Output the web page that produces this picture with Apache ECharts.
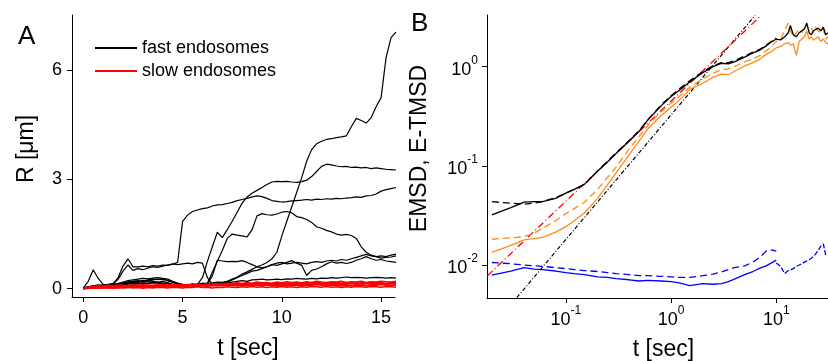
<!DOCTYPE html>
<html><head><meta charset="utf-8">
<script src="https://cdn.jsdelivr.net/npm/echarts@6/dist/echarts.min.js"></script>
<style>html,body{margin:0;padding:0;background:#fff}#c{width:828px;height:361px}</style>
</head><body><div id="c"></div>
<script>
// ---------- Panel A data: R [um] vs t [sec] ----------
const tA = [0,0.25,0.5,0.75,1,1.25,1.5,1.75,
 2,2.25,2.5,2.75,3,3.25,3.5,3.75,
 4,4.25,4.5,4.75,5,5.25,5.5,5.75,
 6,6.25,6.5,6.75,7,7.25,7.5,7.75,
 8,8.25,8.5,8.75,9,9.25,9.5,9.75,
 10,10.25,10.5,10.75,11,11.25,11.5,11.75,
 12,12.25,12.5,12.75,13,13.25,13.5,13.75,
 14,14.25,14.5,14.75,15,15.25,15.5,15.75];

const fast1 = [0.02,0.05,0.08,0.1,0.08,0.1,0.12,0.1,
 0.13,0.15,0.12,0.14,0.16,0.15,0.18,0.17,
 0.15,0.16,0.12,0.1,0.12,0.1,0.13,0.12,
 0.15,0.14,0.16,0.18,0.17,0.2,0.26,0.32,
 0.4,0.46,0.53,0.6,0.65,0.72,0.82,1.0,
 1.45,1.85,2.25,2.65,3.05,3.5,3.82,3.98,
 4.05,4.1,4.12,4.15,4.17,4.2,4.45,4.68,
 4.62,4.55,4.7,5.0,5.25,6.35,6.9,7.05];
const fast2 = [0,0.04,0.06,0.08,0.1,0.08,0.12,0.14,
 0.15,0.18,0.2,0.2,0.22,0.2,0.24,0.26,
 0.25,0.22,0.18,0.12,0.1,0.08,0.1,0.12,
 0.3,0.75,1.15,1.55,1.4,1.62,1.85,2.1,
 2.35,2.52,2.62,2.7,2.78,2.86,2.93,2.95,
 2.94,2.95,2.93,2.92,2.94,2.98,3.08,3.22,
 3.36,3.42,3.4,3.37,3.35,3.36,3.33,3.34,
 3.32,3.33,3.3,3.32,3.3,3.28,3.27,3.26];
const fast3 = [0,0.03,0.05,0.07,0.06,0.08,0.07,0.1,
 0.12,0.15,0.18,0.17,0.2,0.22,0.2,0.18,
 0.2,0.16,0.12,0.1,0.08,0.1,0.08,0.1,
 0.12,0.15,0.45,0.75,1.05,1.38,1.5,1.47,
 1.45,1.42,1.62,2.0,2.06,2.03,2.02,2.05,
 2.1,2.12,2.08,1.98,1.95,1.9,1.82,1.7,
 1.66,1.6,1.56,1.5,1.47,1.49,1.46,1.38,
 1.15,1.0,0.92,0.88,0.84,0.86,0.87,0.9];
const fast4 = [0.02,0.05,0.08,0.1,0.09,0.11,0.13,0.3,
 0.62,0.82,0.6,0.6,0.62,0.6,0.63,0.62,
 0.65,0.64,0.67,0.72,1.85,2.02,2.12,2.16,
 2.2,2.22,2.27,2.3,2.31,2.34,2.37,2.42,
 2.45,2.48,2.52,2.55,2.53,2.48,2.42,2.4,
 2.38,2.39,2.41,2.42,2.43,2.45,2.43,2.46,
 2.45,2.47,2.46,2.48,2.47,2.49,2.5,2.52,
 2.51,2.55,2.56,2.6,2.68,2.72,2.75,2.78];
const fast5 = [0,0.02,0.05,0.08,0.1,0.12,0.14,0.25,
 0.48,0.65,0.5,0.55,0.52,0.56,0.6,0.58,
 0.62,0.65,0.68,0.66,0.68,0.7,0.68,0.72,
 0.7,0.3,0.12,0.14,0.12,0.15,0.18,0.2,
 0.22,0.2,0.24,0.25,0.26,0.24,0.25,0.26,
 0.25,0.27,0.26,0.28,0.27,0.26,0.28,0.27,
 0.29,0.28,0.3,0.29,0.3,0.32,0.3,0.31,
 0.3,0.29,0.3,0.31,0.3,0.29,0.3,0.29];
const fast6 = [0.02,0.2,0.52,0.28,0.12,0.1,0.12,0.1,
 0.14,0.18,0.2,0.22,0.2,0.24,0.26,0.25,
 0.27,0.22,0.18,0.12,0.1,0.12,0.1,0.12,
 0.1,0.13,0.35,0.78,0.76,0.74,0.75,0.74,
 0.77,0.72,0.66,0.6,0.57,0.6,0.66,0.64,
 0.68,0.72,0.77,0.7,0.64,0.36,0.5,0.54,
 0.6,0.68,0.74,0.7,0.72,0.69,0.72,0.78,
 0.82,0.88,0.82,0.78,0.8,0.76,0.74,0.72];
const fast7 = [0,0.03,0.06,0.05,0.08,0.07,0.1,0.12,
 0.1,0.12,0.14,0.13,0.15,0.14,0.16,0.15,
 0.13,0.12,0.1,0.12,0.1,0.09,0.11,0.1,
 0.12,0.11,0.13,0.12,0.15,0.18,0.24,0.3,
 0.36,0.42,0.48,0.5,0.55,0.6,0.66,0.7,
 0.72,0.68,0.7,0.72,0.7,0.68,0.72,0.74,
 0.72,0.76,0.78,0.76,0.8,0.78,0.82,0.86,
 0.9,0.94,0.9,0.88,0.9,0.88,0.92,0.95];
const fast8 = [0,0.04,0.06,0.08,0.06,0.09,0.12,0.14,
 0.18,0.22,0.24,0.26,0.28,0.27,0.29,0.3,
 0.28,0.26,0.2,0.15,0.12,0.1,0.12,0.1,
 0.12,0.11,0.1,0.12,0.11,0.13,0.12,0.14,
 0.13,0.12,0.14,0.13,0.15,0.14,0.13,0.15,
 0.14,0.13,0.15,0.14,0.13,0.15,0.14,0.16,
 0.15,0.14,0.16,0.15,0.14,0.16,0.15,0.14,
 0.16,0.15,0.14,0.16,0.15,0.14,0.15,0.16];

const slow1 = [0,0.03,0.05,0.04,0.06,0.05,0.07,0.06,
 0.08,0.07,0.06,0.08,0.09,0.07,0.08,0.1,
 0.09,0.08,0.1,0.09,0.11,0.1,0.12,0.1,
 0.11,0.13,0.12,0.14,0.12,0.15,0.13,0.16,
 0.14,0.17,0.15,0.18,0.16,0.17,0.15,0.18,
 0.16,0.19,0.17,0.18,0.16,0.19,0.17,0.2,
 0.18,0.17,0.19,0.18,0.2,0.17,0.19,0.18,
 0.2,0.17,0.19,0.18,0.2,0.19,0.18,0.2];
const slow2 = [0,0.02,0.03,0.05,0.03,0.04,0.06,0.04,
 0.05,0.07,0.05,0.06,0.04,0.06,0.07,0.05,
 0.06,0.08,0.06,0.07,0.05,0.07,0.08,0.06,
 0.09,0.07,0.08,0.1,0.08,0.09,0.11,0.09,
 0.1,0.12,0.1,0.11,0.13,0.11,0.12,0.1,
 0.12,0.13,0.11,0.12,0.14,0.12,0.13,0.11,
 0.13,0.14,0.12,0.13,0.11,0.12,0.14,0.13,
 0.12,0.14,0.13,0.11,0.13,0.12,0.14,0.13];
const slow3 = [0,0.01,0.02,0.01,0.03,0.02,0.01,0.03,
 0.02,0.04,0.02,0.03,0.01,0.03,0.02,0.04,
 0.03,0.02,0.04,0.03,0.02,0.04,0.03,0.05,
 0.03,0.04,0.02,0.04,0.03,0.05,0.04,0.03,
 0.05,0.04,0.06,0.04,0.05,0.03,0.05,0.04,
 0.06,0.04,0.05,0.03,0.05,0.04,0.06,0.05,
 0.04,0.06,0.04,0.05,0.03,0.05,0.04,0.06,
 0.05,0.04,0.06,0.05,0.04,0.06,0.05,0.04];
const slow4 = [0,0.04,0.06,0.08,0.07,0.09,0.08,0.1,
 0.09,0.08,0.1,0.09,0.11,0.1,0.09,0.11,
 0.1,0.12,0.1,0.11,0.09,0.11,0.1,0.12,
 0.11,0.1,0.12,0.11,0.13,0.11,0.12,0.1,
 0.12,0.14,0.12,0.13,0.15,0.13,0.14,0.16,
 0.14,0.15,0.13,0.15,0.16,0.14,0.15,0.17,
 0.15,0.16,0.14,0.16,0.15,0.17,0.15,0.16,
 0.14,0.16,0.17,0.15,0.16,0.14,0.16,0.15];
const slow5 = [0,0.02,0.01,0.03,0.04,0.03,0.05,0.04,
 0.06,0.05,0.04,0.06,0.05,0.07,0.06,0.05,
 0.07,0.06,0.08,0.07,0.06,0.08,0.07,0.09,
 0.08,0.07,0.09,0.08,0.1,0.08,0.09,0.07,
 0.09,0.08,0.1,0.09,0.08,0.1,0.09,0.07,
 0.09,0.08,0.1,0.09,0.08,0.1,0.09,0.11,
 0.09,0.08,0.1,0.09,0.07,0.09,0.08,0.1,
 0.09,0.08,0.1,0.09,0.11,0.09,0.08,0.1];
const slow6 = [0,0.01,0.03,0.02,0.02,0.04,0.03,0.02,
 0.04,0.03,0.05,0.04,0.06,0.05,0.04,0.06,
 0.08,0.06,0.07,0.09,0.07,0.08,0.1,0.08,
 0.09,0.11,0.09,0.1,0.12,0.1,0.11,0.13,
 0.11,0.12,0.1,0.12,0.14,0.12,0.13,0.11,
 0.13,0.15,0.13,0.14,0.12,0.14,0.13,0.15,
 0.13,0.12,0.14,0.16,0.14,0.13,0.15,0.13,
 0.12,0.14,0.15,0.13,0.14,0.12,0.14,0.13];

const ticksAx = [0, 5, 10, 15];
const ticksAy = [0, 3, 6];

// ---------- Panel B data: EMSD / E-TMSD vs t (log-log) ----------
const tB = [0.0198,0.03,0.04,0.05,0.06,0.08,0.1,0.12,0.15,0.2,
 0.25,0.3,0.4,0.5,0.6,0.8,1.0,1.2,1.5,2.0,
 2.5,3.0,3.5,4.0,5.0,6.0,7.0,8.0,9.0,10.0,
 11,12,13,13.6,14.5,15.5,16.5,17.5,18.5,19.5,
 20.5,21.5,22.5,23.5,25,26.5,28,29.5,31];

const emsdFast = [0.032,0.038,0.043,0.0435,0.0435,0.047,0.053,0.058,0.065,0.088,
 0.11,0.133,0.178,0.225,0.29,0.4,0.5,0.58,0.7,0.87,
 1.0,1.08,1.07,1.12,1.25,1.38,1.47,1.62,1.78,1.9,
 1.86,2.0,2.2,2.6,2.1,2.0,2.2,2.3,2.4,2.75,
 2.2,2.1,2.3,2.2,2.45,2.3,2.5,2.1,2.2];
const etmsdFast = [0.0435,0.042,0.041,0.042,0.0435,0.048,0.053,0.058,0.065,0.089,
 0.112,0.135,0.18,0.228,0.29,0.41,0.51,0.6,0.72,0.89,
 1.02,1.1,1.1,1.15,1.28,1.4,1.5,1.65,1.8,1.95,
 null,null,null,null,null,null,null,null,null,null,
 null,null,null,null,null,null,null,null,null];
const emsdMix = [0.0134,0.0158,0.0179,0.0185,0.019,0.0215,0.0244,0.028,0.0335,0.047,
 0.065,0.085,0.13,0.18,0.235,0.32,0.39,0.46,0.59,0.68,
 0.78,0.84,0.83,0.9,1.02,1.1,1.2,1.33,1.42,1.55,
 1.6,1.7,1.75,1.65,1.7,1.3,1.8,1.9,2.0,2.3,
 1.9,2.0,1.85,1.9,2.0,1.8,1.9,1.75,1.7];
const etmsdMix = [0.0182,0.0188,0.0193,0.021,0.0235,0.028,0.033,0.037,0.043,0.058,
 0.077,0.097,0.148,0.2,0.255,0.35,0.43,0.5,0.62,0.75,
 0.86,0.93,0.95,1.0,1.12,1.2,1.3,1.45,1.6,1.8,
 1.9,2.3,2.75,2.3,2.0,2.2,2.4,2.2,2.5,2.6,
 2.3,2.5,2.2,2.5,2.3,2.2,2.4,1.9,2.0];
const emsdSlow = [0.0079,0.0087,0.0094,0.0091,0.009,0.0087,0.0084,0.0082,0.008,0.0076,
 0.0075,0.0073,0.0071,0.0069,0.007,0.0069,0.0068,0.0066,0.0062,0.0065,
 0.0064,0.0065,0.0068,0.0072,0.008,0.0086,0.0093,0.0098,0.0105,0.0112,
 null,null,null,null,null,null,null,null,null,null,
 null,null,null,null,null,null,null,null,null];
const emsdSlowTail = [null,null,null,null,null,null,null,null,null,null,
 null,null,null,null,null,null,null,null,null,null,
 null,null,null,null,null,null,null,null,null,0.0105,
 0.0097,0.0082,0.0088,0.0089,0.0092,0.0097,0.01,0.0103,0.0107,0.011,
 0.0113,0.0117,0.0122,0.0128,0.014,0.0155,0.0163,0.0125,null];
const etmsdSlow = [0.0106,0.0103,0.01,0.0098,0.0097,0.0094,0.0092,0.009,0.0088,0.0086,
 0.0084,0.0082,0.008,0.0078,0.0078,0.0077,0.0076,0.0075,0.0075,0.0078,
 0.0081,0.0085,0.009,0.0094,0.0098,0.0107,0.012,0.0138,0.0142,0.0138,
 null,null,null,null,null,null,null,null,null,null,
 null,null,null,null,null,null,null,null,null];

// guide lines (end points)
const guideBlackT = [0.0342, 6.3];
const guideBlackV = [0.0047, 3.3];
const guideRedT = [0.018, 7.0];
const guideRedV = [0.0078, 3.2];

const ticksBx = [0.1, 1, 10];
const ticksBy = [0.01, 0.1, 1];

// ---------- build ----------
const FONT = 'Liberation Sans, Arial, sans-serif';
const zip = (ts, vs) => ts.map((t, i) => [t, vs[i] === undefined ? null : vs[i]]);

function lineA(name, vals, color, w) {
  return { type: 'line', name: name, xAxisIndex: 0, yAxisIndex: 0, data: zip(tA, vals),
    symbol: 'none', showSymbol: false, silent: true, animation: false,
    lineStyle: { color: color, width: w || 1.2 }, itemStyle: { color: color } };
}
function lineB(vals, ts, color, type, width) {
  return { type: 'line', xAxisIndex: 1, yAxisIndex: 1, data: zip(ts, vals),
    symbol: 'none', showSymbol: false, silent: true, animation: false, connectNulls: false,
    lineStyle: { color: color, width: width || 1.3, type: type || 'solid' } };
}

const series = [];
[fast1, fast2, fast3, fast4, fast5, fast6, fast7, fast8].forEach(v => series.push(lineA('fast endosomes', v, '#000000', 1.2)));
[slow1, slow2, slow3, slow4, slow5, slow6].forEach(v => series.push(lineA('slow endosomes', v, '#ff0000', 1.5)));

series.push(lineB(guideBlackV, guideBlackT, '#000000', [4, 2, 1, 2], 1.2));
series.push(lineB(guideRedV, guideRedT, '#ff0000', [7, 3, 1, 3], 1.3));
series.push(lineB(etmsdSlow, tB, '#0000ff', [7, 4]));
series.push(lineB(emsdSlow, tB, '#0000ff'));
series.push(lineB(emsdSlowTail, tB, '#0000ff', [5, 2]));
series.push(lineB(emsdMix, tB, '#ff8c1a'));
series.push(lineB(etmsdMix, tB, '#ff8c1a', [7, 4]));
series.push(lineB(etmsdFast, tB, '#000000', [7, 4]));
series.push(lineB(emsdFast, tB, '#000000'));

const axisCommon = {
  axisLine: { show: true, onZero: false, lineStyle: { color: '#000', width: 1 } },
  splitLine: { show: false },
  nameLocation: 'middle'
};
const supFmt = v => '{b|10}{s|' + Math.round(Math.log10(v)) + '}';
const supRich = {
  b: { fontSize: 18, fontFamily: FONT, color: '#000', lineHeight: 24, verticalAlign: 'bottom' },
  s: { fontSize: 12, fontFamily: FONT, color: '#000', lineHeight: 12, verticalAlign: 'top' }
};

const option = {
  backgroundColor: '#ffffff',
  animation: false,
  textStyle: { fontFamily: FONT },
  title: [
    { text: 'A', left: 18, top: 24, padding: 0, textStyle: { fontSize: 26, fontWeight: 'normal', color: '#000', fontFamily: FONT } },
    { text: 'B', left: 411, top: 11, padding: 0, textStyle: { fontSize: 26, fontWeight: 'normal', color: '#000', fontFamily: FONT } }
  ],
  legend: {
    data: [{ name: 'fast endosomes', icon: 'rect' }, { name: 'slow endosomes', icon: 'rect' }],
    orient: 'vertical', left: 95, top: 39, padding: 0,
    itemWidth: 42, itemHeight: 2, itemGap: 5, selectedMode: false,
    textStyle: { fontSize: 18, color: '#000', fontFamily: FONT, lineHeight: 18 }
  },
  grid: [
    { left: 72, top: 15, width: 323, height: 282, containLabel: false, outerBoundsMode: 'none' },
    { left: 487, top: 15, width: 341, height: 283, containLabel: false, outerBoundsMode: 'none' }
  ],
  xAxis: [
    Object.assign({}, axisCommon, {
      gridIndex: 0, type: 'value', min: -0.57, max: 15.7,
      axisTick: { show: true, inside: false, length: 5, lineStyle: { color: '#000' }, customValues: ticksAx },
      axisLabel: { customValues: ticksAx, color: '#000', fontSize: 18, margin: 12, fontFamily: FONT },
      name: 't [sec]', nameGap: 40,
      nameTextStyle: { fontSize: 23, color: '#000', fontFamily: FONT, padding: [0, 0, 0, 29] }
    }),
    Object.assign({}, axisCommon, {
      gridIndex: 1, type: 'log', logBase: 10, min: 0.0178, max: 31,
      axisTick: { show: true, inside: false, length: 5, lineStyle: { color: '#000' }, customValues: ticksBx },
      minorTick: { show: false },
      axisLabel: { customValues: ticksBx, formatter: supFmt, rich: supRich, margin: 7 },
      name: 't [sec]', nameGap: 40,
      nameTextStyle: { fontSize: 23, color: '#000', fontFamily: FONT, padding: [0, 0, 0, 12] }
    })
  ],
  yAxis: [
    Object.assign({}, axisCommon, {
      gridIndex: 0, type: 'value', min: -0.23, max: 7.52,
      axisTick: { show: true, inside: false, length: 5, lineStyle: { color: '#000' }, customValues: ticksAy },
      axisLabel: { customValues: ticksAy, color: '#000', fontSize: 18, margin: 10, fontFamily: FONT },
      name: 'R [\u03bcm]', nameGap: 34,
      nameTextStyle: { fontSize: 23, color: '#000', fontFamily: FONT, padding: [0, 0, 0, 14] }
    }),
    Object.assign({}, axisCommon, {
      gridIndex: 1, type: 'log', logBase: 10, min: 0.00465, max: 3.32,
      axisTick: { show: true, inside: false, length: 5, lineStyle: { color: '#000' }, customValues: ticksBy },
      minorTick: { show: false },
      axisLabel: { customValues: ticksBy, formatter: supFmt, rich: supRich, margin: 9 },
      name: 'EMSD, E-TMSD', nameGap: 56,
      nameTextStyle: { fontSize: 23, color: '#000', fontFamily: FONT, padding: [0, 0, 0, 16] }
    })
  ],
  series: series
};

const chart = echarts.init(document.getElementById('c'), null, { renderer: 'canvas' });
chart.setOption(option);
</script>
</body></html>
